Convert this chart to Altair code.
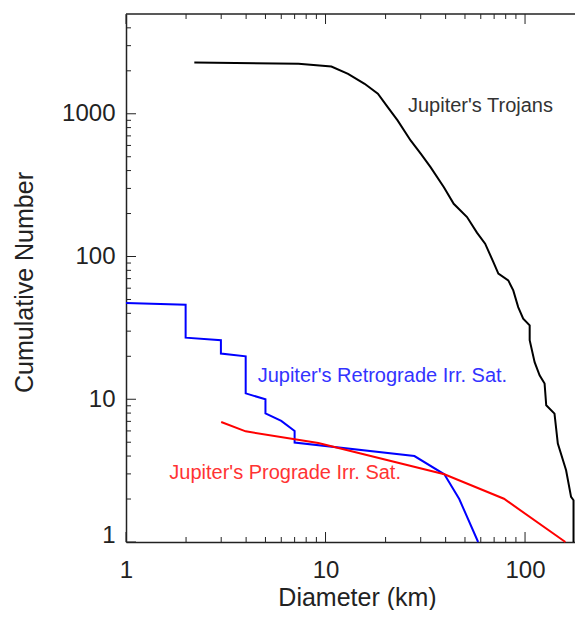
import altair as alt
import pandas as pd

# ---------------- data ----------------
troj_d = [2.20, 7.32, 10.7, 12.97, 15.7, 18.3, 20.5, 22.97, 26.7, 30.0, 33.6, 39.2,
          43.9, 51.2, 57.4, 63.1, 69.4, 73.5, 82.4, 87.3, 92.4, 97.9, 105.5, 105.5,
          111.7, 118.3, 125.3, 127.7, 140.5, 146.0, 160.6, 170.1, 175.0, 175.0]
troj_n = [2290, 2240, 2144, 1906, 1622, 1381, 1112, 898, 650, 525, 423, 306,
          234, 189, 147, 123, 91.4, 75.8, 68.0, 57.9, 44.2, 36.7, 32.9, 25.9,
          18.2, 14.7, 12.9, 9.07, 7.93, 4.89, 3.18, 2.07, 1.96, 1.0]

ret_d = [1.0, 1.99, 1.99, 2.99, 2.99, 3.98, 3.98, 5.0, 5.0, 6.0, 7.0, 7.0, 27.9, 39.4, 46.8, 58.2]
ret_n = [47.3, 46, 27, 25.9, 20.9, 20, 11, 10, 7.95, 7.05, 6.0, 4.97, 4.0, 2.98, 2.0, 1.0]

pro_d = [3.0, 3.98, 9.2, 39.4, 78.4, 159.3]
pro_n = [6.93, 5.96, 4.94, 2.98, 2.01, 1.0]

series_names = ["Jupiter's Trojans", "Jupiter's Retrograde Irr. Sat.", "Jupiter's Prograde Irr. Sat."]
line_colors = ["#000000", "#0000ff", "#ff0000"]
text_colors = ["#333333", "#3333ff", "#ff3333"]
label_d = [25.9, 4.57, 1.648]
label_n = [1026, 13.13, 2.776]

x_major = [1, 10, 100]
x_minor = [2, 3, 4, 5, 6, 7, 8, 9, 20, 30, 40, 50, 60, 70, 80, 90]
y_major = [1, 10, 100, 1000]
y_minor = [2, 3, 4, 5, 6, 7, 8, 9, 20, 30, 40, 50, 60, 70, 80, 90,
           200, 300, 400, 500, 600, 700, 800, 900, 2000, 3000, 4000]

# ---------------- build tables ----------------
rows = []
for name, ds, ns in zip(series_names, [troj_d, ret_d, pro_d], [troj_n, ret_n, pro_n]):
    for i, (d, n) in enumerate(zip(ds, ns)):
        rows.append({"series": name, "D": d, "N": n, "idx": i})
df = pd.DataFrame(rows)

W, H = 449, 528
FONT = "Liberation Sans"
AX = "#222222"

xs = alt.Scale(type="log", domain=[1, 178], nice=False)
ys = alt.Scale(type="log", domain=[1, 5000], nice=False)

xaxis = alt.Axis(values=x_major, format="d", ticks=False, grid=False,
                 labelFlush=False, labelBaseline="alphabetic", labelPadding=35,
                 domainColor=AX, domainWidth=1.5,
                 title="Diameter (km)", titleX=231, titleY=63, titleAlign="center",
                 titleBaseline="alphabetic")
yaxis = alt.Axis(values=y_major, format="d", ticks=False, grid=False,
                 labelFlush=True, labelFlushOffset=5, labelPadding=11,
                 domainColor=AX, domainWidth=1.5,
                 title="Cumulative Number", titleX=-94, titleY=268, titleAngle=270,
                 titleAlign="center", titleBaseline="alphabetic")

lines = alt.Chart(df).mark_line(strokeWidth=2).encode(
    x=alt.X("D:Q", scale=xs, axis=xaxis),
    y=alt.Y("N:Q", scale=ys, axis=yaxis),
    color=alt.Color("series:N", scale=alt.Scale(domain=series_names, range=line_colors), legend=None),
    order="idx:Q",
)

layers = [lines]

# annotations
for name, d, n, c in zip(series_names, label_d, label_n, text_colors):
    tdf = pd.DataFrame({"D": [d], "N": [n], "label": [name]})
    layers.append(
        alt.Chart(tdf).mark_text(align="left", baseline="alphabetic", fontSize=20, font=FONT, color=c)
        .encode(x=alt.X("D:Q", scale=xs, axis=xaxis), y=alt.Y("N:Q", scale=ys, axis=yaxis), text="label:N")
    )

# inward ticks
def xt(vals, y0, y1):
    return alt.Chart(pd.DataFrame({"D": vals})).mark_rule(color=AX, strokeWidth=1).encode(
        x=alt.X("D:Q", scale=xs, axis=xaxis), y=alt.value(y0), y2=alt.value(y1))

def yt(vals, x0, x1):
    return alt.Chart(pd.DataFrame({"N": vals})).mark_rule(color=AX, strokeWidth=1).encode(
        y=alt.Y("N:Q", scale=ys, axis=yaxis), x=alt.value(x0), x2=alt.value(x1))

layers += [
    xt(x_major, H, H - 10), xt(x_minor, H, H - 5),
    xt(x_major, 0, 10), xt(x_minor, 0, 5),
    yt(y_major, 0, 10), yt(y_minor, 0, 5),
]

# top frame line
layers.append(
    alt.Chart(pd.DataFrame({"v": [0]})).mark_rule(color=AX, strokeWidth=1.5).encode(
        x=alt.value(0), x2=alt.value(W), y=alt.value(0))
)

chart = alt.layer(*layers).properties(
    width=W, height=H,
    padding={"left": 118, "top": 6, "right": 0, "bottom": 68},
    autosize=alt.AutoSizeParams(type="none"),
).configure(font=FONT).configure_view(stroke=None).configure_axis(
    labelFont=FONT, titleFont=FONT, labelFontSize=24, titleFontSize=25,
    labelColor=AX, titleColor=AX, titleFontWeight="normal",
)

chart.save("out.html", embed_options={"renderer": "svg", "actions": False})
